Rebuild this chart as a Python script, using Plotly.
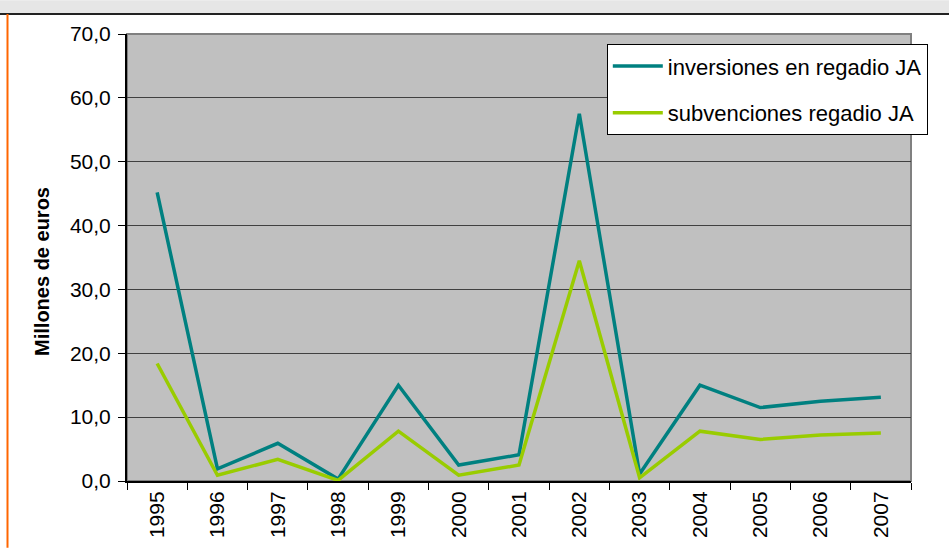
import plotly.graph_objects as go

years = ["1995", "1996", "1997", "1998", "1999", "2000", "2001", "2002", "2003", "2004", "2005", "2006", "2007"]
inversiones = [45.2, 1.9, 5.9, 0.3, 15.0, 2.5, 4.1, 57.5, 1.1, 15.0, 11.5, 12.5, 13.1]
subvenciones = [18.4, 0.9, 3.4, 0.1, 7.8, 0.9, 2.5, 34.5, 0.5, 7.8, 6.5, 7.2, 7.5]
y_ticks = [0, 10, 20, 30, 40, 50, 60, 70]

fig = go.Figure()
fig.add_trace(go.Scatter(x=years, y=inversiones, mode="lines", name="inversiones en regadio JA",
                         legendgroup="a", line=dict(color="#008080", width=3.5)))
fig.add_trace(go.Scatter(x=years, y=subvenciones, mode="lines", name="subvenciones regadio JA",
                         legendgroup="b", line=dict(color="#99CC00", width=3.5)))

fig.update_layout(
    width=949, height=550,
    margin=dict(l=127, r=38, t=34, b=67),
    paper_bgcolor="white",
    plot_bgcolor="#C0C0C0",
    separators=",.",
    font=dict(family="Arial, Liberation Sans, sans-serif", size=21, color="black"),
    showlegend=True,
    legend=dict(x=0.612, y=0.977, xanchor="left", yanchor="top", xref="paper", yref="paper",
                bgcolor="white", bordercolor="black", borderwidth=1,
                font=dict(size=22), traceorder="grouped", tracegroupgap=15, itemwidth=50),
    xaxis=dict(type="category", range=[-0.5, 12.5], tickangle=-90,
               ticks="outside", tickson="boundaries", ticklen=7, tickcolor="black",
               showline=True, linecolor="black", linewidth=2, mirror=False,
               showgrid=False, tickfont=dict(size=21)),
    yaxis=dict(range=[0, 70], tickvals=y_ticks, tickformat=".1f",
               ticks="outside", ticklen=7, tickcolor="black", ticklabelstandoff=3,
               showline=True, linecolor="black", linewidth=2,
               showgrid=True, gridcolor="#404040", gridwidth=1, zeroline=False,
               tickfont=dict(size=21)),
    annotations=[
        dict(text="<b>Millones de euros</b>", textangle=-90, xref="paper", yref="paper",
             x=-85/784, y=(483 - 273) / 449, xanchor="center", yanchor="middle",
             showarrow=False, font=dict(size=20)),
    ],
    shapes=[
        dict(type="rect", xref="paper", yref="paper", x0=0, x1=1, y0=0, y1=1,
             line=dict(color="#808080", width=2), fillcolor="rgba(0,0,0,0)", layer="below"),
        dict(type="rect", xref="paper", yref="paper", x0=-127/784, x1=1+38/784,
             y0=1+21/449, y1=1+34/449, fillcolor="#E6E6E6", line=dict(width=0)),
        dict(type="line", xref="paper", yref="paper", x0=-127/784, x1=1+38/784,
             y0=1+20/449, y1=1+20/449, line=dict(color="#222222", width=2)),
        dict(type="line", xref="paper", yref="paper", x0=-119.5/784, x1=-119.5/784,
             y0=-67/449, y1=1+20/449, line=dict(color="#FF6600", width=2)),
    ],
)

fig.write_html("out.html")
